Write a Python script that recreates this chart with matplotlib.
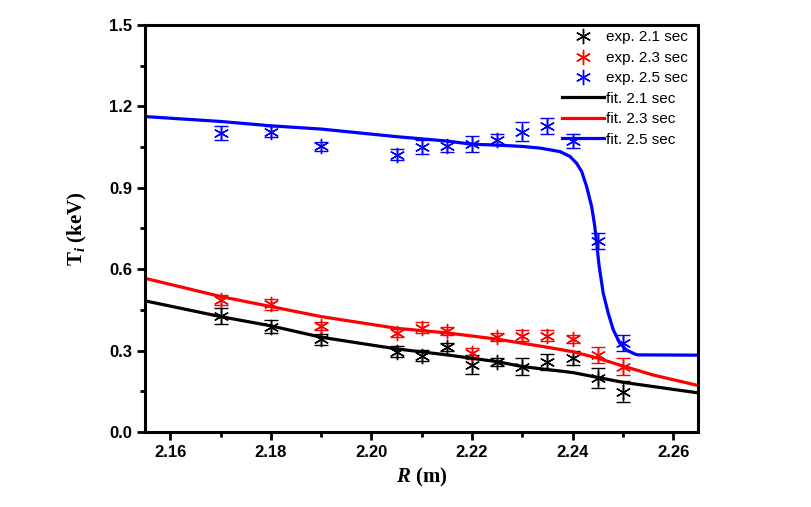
import matplotlib
matplotlib.use("Agg")
import matplotlib.pyplot as plt
from matplotlib.ticker import MultipleLocator, FormatStrFormatter

plt.rcParams['mathtext.fontset'] = 'custom'
plt.rcParams['mathtext.rm'] = 'Liberation Serif:bold'
plt.rcParams['mathtext.it'] = 'Liberation Serif:italic:bold'

# measured points
r_exp = [2.17, 2.18, 2.19, 2.205, 2.21, 2.215, 2.22, 2.225, 2.23, 2.235, 2.24, 2.245, 2.25]
ti_21 = [0.427, 0.388, 0.342, 0.296, 0.281, 0.314, 0.247, 0.259, 0.241, 0.257, 0.272, 0.198, 0.149]
err_21 = [0.028, 0.025, 0.02, 0.02, 0.02, 0.015, 0.035, 0.015, 0.03, 0.03, 0.025, 0.037, 0.037]
ti_23 = [0.486, 0.47, 0.39, 0.366, 0.384, 0.372, 0.29, 0.349, 0.354, 0.355, 0.342, 0.284, 0.241]
err_23 = [0.02, 0.02, 0.015, 0.015, 0.02, 0.015, 0.02, 0.015, 0.02, 0.02, 0.015, 0.03, 0.03]
ti_25 = [1.101, 1.107, 1.052, 1.021, 1.049, 1.052, 1.061, 1.076, 1.107, 1.128, 1.072, 0.704, 0.327]
err_25 = [0.025, 0.02, 0.015, 0.02, 0.025, 0.02, 0.03, 0.02, 0.035, 0.03, 0.025, 0.03, 0.03]

# fit curves
r_fit_21 = [2.155, 2.17, 2.18, 2.19, 2.205, 2.215, 2.225, 2.23, 2.24, 2.25, 2.265]
fit_21 = [0.483, 0.425, 0.391, 0.349, 0.306, 0.284, 0.259, 0.241, 0.219, 0.183, 0.144]
r_fit_23 = [2.155, 2.17, 2.18, 2.19, 2.205, 2.215, 2.225, 2.235, 2.24, 2.245, 2.25, 2.256, 2.265]
fit_23 = [0.566, 0.499, 0.462, 0.425, 0.382, 0.365, 0.342, 0.312, 0.296, 0.272, 0.243, 0.21, 0.171]
r_fit_25 = [2.155, 2.17, 2.18, 2.19, 2.205, 2.215, 2.22, 2.225, 2.23, 2.2335, 2.2375, 2.2395,
            2.2408, 2.2418, 2.2428, 2.2438, 2.2444, 2.2453, 2.2461, 2.2471, 2.2481, 2.2494,
            2.2507, 2.2524, 2.253, 2.265]
fit_25 = [1.162, 1.144, 1.128, 1.116, 1.088, 1.072, 1.06, 1.057, 1.052, 1.046, 1.033, 1.015,
          0.99, 0.96, 0.904, 0.83, 0.76, 0.609, 0.511, 0.437, 0.376, 0.327,
          0.302, 0.287, 0.284, 0.283]

fig = plt.figure(figsize=(8.11, 5.07), dpi=100)
ax = fig.add_axes([0.179, 0.148, 0.682, 0.803])

star = (6, 2, 0)
for y, e, c, lab in [(ti_21, err_21, 'black', 'exp. 2.1 sec'),
                     (ti_23, err_23, 'red', 'exp. 2.3 sec'),
                     (ti_25, err_25, 'blue', 'exp. 2.5 sec')]:
    ax.errorbar(r_exp, y, yerr=e, fmt='none', ecolor=c, elinewidth=1, capsize=5, capthick=1)
    ax.plot(r_exp, y, linestyle='none', marker=star, markersize=11, markeredgewidth=1,
            color=c, label=lab)

ax.plot(r_fit_21, fit_21, color='black', lw=2.3, label='fit. 2.1 sec')
ax.plot(r_fit_23, fit_23, color='red', lw=2.3, label='fit. 2.3 sec')
ax.plot(r_fit_25, fit_25, color='blue', lw=2.3, label='fit. 2.5 sec')

ax.set_xlim(2.155, 2.265)
ax.set_ylim(0, 1.5)
ax.xaxis.set_major_locator(MultipleLocator(0.02))
ax.xaxis.set_minor_locator(MultipleLocator(0.01))
ax.yaxis.set_major_locator(MultipleLocator(0.3))
ax.yaxis.set_minor_locator(MultipleLocator(0.15))
ax.xaxis.set_major_formatter(FormatStrFormatter('%.2f'))
ax.yaxis.set_major_formatter(FormatStrFormatter('%.1f'))

for s in ax.spines.values():
    s.set_linewidth(2.2)
ax.tick_params(which='major', direction='out', length=6, width=2, top=False, right=False)
ax.tick_params(which='minor', direction='out', length=3.5, width=2, top=False, right=False)
for t in ax.get_xticklabels() + ax.get_yticklabels():
    t.set_fontfamily('Liberation Sans')
    t.set_fontweight('bold')
    t.set_fontsize(12)

ax.set_xlabel('$R$ (m)', fontsize=15, fontfamily='Liberation Serif', fontweight='bold', labelpad=4)
ax.set_ylabel(r'T$_{\mathit{i}}$ (keV)', fontsize=15, fontfamily='Liberation Serif',
              fontweight='bold', labelpad=14)

leg = ax.legend(loc='upper right', frameon=False, prop={'family': 'Liberation Sans', 'size': 11},
                handlelength=2.8, handletextpad=0.1, labelspacing=0.42, borderaxespad=0.1,
                bbox_to_anchor=(0.995, 1.005))

fig.savefig('out.png', dpi=100)
